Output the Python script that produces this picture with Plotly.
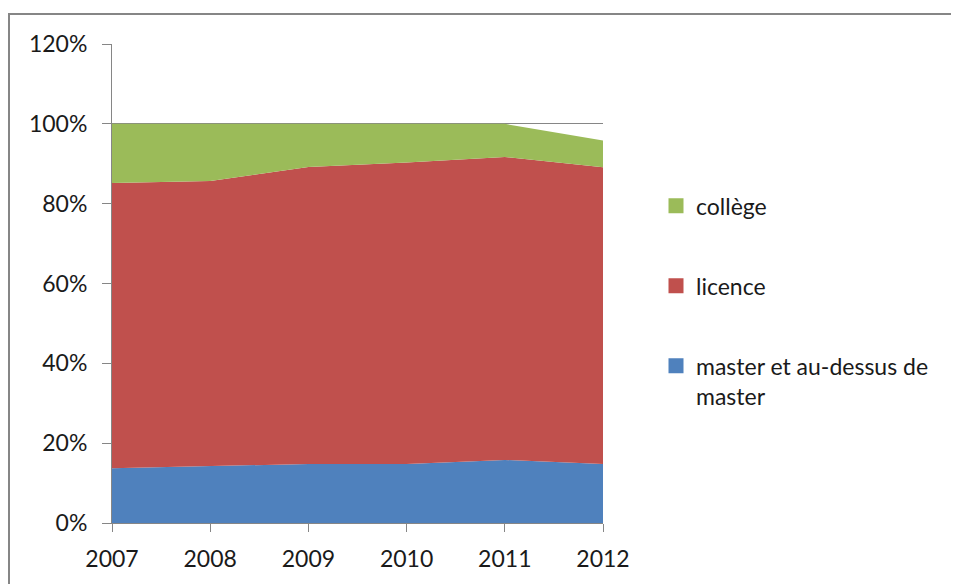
import plotly.graph_objects as go

years = [2007, 2008, 2009, 2010, 2011, 2012]
master = [0.137, 0.142, 0.148, 0.148, 0.158, 0.148]
licence = [0.715, 0.715, 0.744, 0.755, 0.759, 0.743]
college = [0.148, 0.143, 0.108, 0.097, 0.083, 0.067]

names = ["master et au-dessus de<br>master", "licence", "collège"]
colors = ["#4F81BD", "#C0504D", "#9BBB59"]
series = [master, licence, college]

fig = go.Figure()
for n, c, v in zip(names, colors, series):
    fig.add_trace(go.Scatter(
        x=years, y=v, name=n, mode="lines", stackgroup="one",
        line=dict(width=0, color=c), fillcolor=c, showlegend=False,
        hoverinfo="skip"))

# legend entries (square swatches), top to bottom
for n, c in reversed(list(zip(names, colors))):
    fig.add_trace(go.Scatter(
        x=[None], y=[None], name=n, mode="markers",
        marker=dict(symbol="square", size=15, color=c), legendgroup=n))

OFF = 8  # page body margin
W, H = 959 - OFF, 584 - OFF
L, R, T, B = 112 - OFF, 603 - OFF, 44 - OFF, 525 - OFF
pw, ph = R - L, B - T

def px(x):
    return (x - OFF - L) / pw

def py(y):
    return (B - (y - OFF)) / ph

fig.update_layout(
    width=W, height=H,
    margin=dict(l=L, r=W - R, t=T, b=H - B, pad=0),
    paper_bgcolor="white", plot_bgcolor="white",
    font=dict(family="Lato, 'Open Sans', sans-serif", size=23, color="#1a1a1a"),
    showlegend=True,
    legend=dict(x=px(656), y=py(185), xanchor="left", yanchor="top",
                traceorder="grouped", tracegroupgap=47, valign="top",
                font=dict(size=23), itemwidth=30, bgcolor="rgba(0,0,0,0)"),
    xaxis=dict(range=[2007, 2012], tickmode="array", tickvals=years,
               ticktext=[str(y) for y in years], showgrid=False,
               showline=True, linecolor="#868686", linewidth=1,
               ticks="outside", ticklen=8, tickcolor="#868686",
               ticklabelstandoff=7, zeroline=False, fixedrange=True),
    yaxis=dict(range=[0, 1.2], dtick=0.2, tickformat=".0%",
               showgrid=True, gridcolor="#868686", gridwidth=1,
               showline=True, linecolor="#868686", linewidth=1,
               ticks="outside", ticklen=9, tickcolor="#868686",
               ticklabelstandoff=10, zeroline=False, fixedrange=True),
    shapes=[dict(type="rect", xref="paper", yref="paper",
                 x0=px(OFF + 1), y0=py(620), x1=px(1000), y1=py(14),
                 line=dict(color="#868686", width=2), fillcolor="rgba(0,0,0,0)",
                 layer="below")],
)

fig.write_html("out.html")
